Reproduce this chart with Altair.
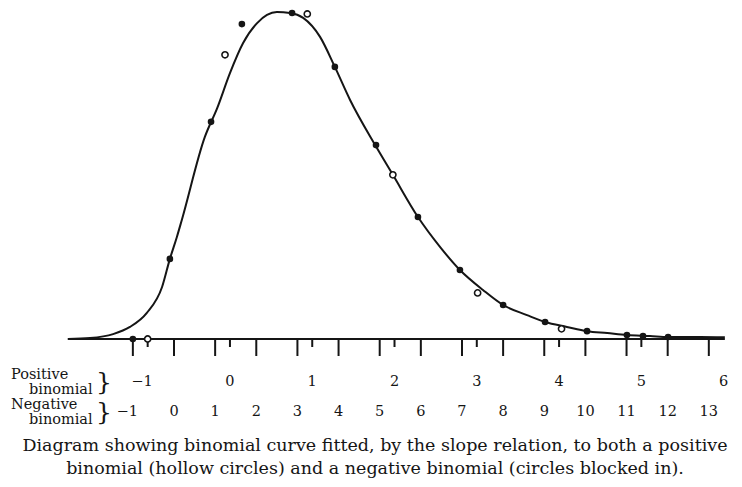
import altair as alt
import pandas as pd

# ---- data (x in negative-binomial units, y relative height) ----
curve_x = [-2.58, -2.04, -1.48, -1.07, -0.66, -0.29, -0.10, 0.07, 0.19, 0.75, 1.05, 1.36,
           1.68, 2.02, 2.26, 2.50, 2.82, 3.14, 3.55, 3.91, 4.28, 4.89, 5.32, 5.93, 6.47,
           6.95, 7.51, 8.00, 8.58, 9.02, 9.55, 10.04, 10.53, 11.01, 11.57, 12.01, 12.79, 13.39]
curve_y = [0.000, 0.003, 0.015, 0.037, 0.080, 0.159, 0.245, 0.312, 0.364, 0.618, 0.706, 0.813,
           0.905, 0.966, 0.991, 1.000, 0.997, 0.982, 0.924, 0.832, 0.731, 0.593, 0.502, 0.373,
           0.281, 0.211, 0.150, 0.104, 0.073, 0.052, 0.037, 0.024, 0.018, 0.012, 0.009, 0.006,
           0.006, 0.005]

# negative binomial (circles blocked in), x in negative-binomial units
neg_x = [-1.00, -0.10, 0.90, 1.65, 2.87, 3.91, 4.91, 5.93, 6.95, 8.00, 9.02, 10.04, 11.01, 11.40, 12.01]
neg_y = [0.000, 0.245, 0.664, 0.963, 0.997, 0.832, 0.593, 0.373, 0.211, 0.104, 0.052, 0.024, 0.012, 0.009, 0.006]

# positive binomial (hollow circles), x in positive-binomial units
pos_x = [-1.00, -0.06, 0.94, 1.98, 3.01, 4.03]
pos_y = [0.000, 0.869, 0.994, 0.502, 0.141, 0.031]

neg_ticks = list(range(-1, 14))
pos_ticks = list(range(-1, 6))
pos_labels = list(range(-1, 7))

# relation between the two scales (positive unit -> negative unit)
POS_SLOPE = 2.0
POS_OFFSET = 1.36

side_labels = ["Positive", "binomial", "Negative", "binomial"]
caption = ["Diagram showing binomial curve fitted, by the slope relation, to both a positive",
           "binomial (hollow circles) and a negative binomial (circles blocked in)."]

FONT = "DejaVu Serif"
INK = "#151515"

xs = alt.Scale(domain=[-4.2295, 13.8065], nice=False, zero=False)
ys = alt.Scale(domain=[-0.4526, 1.0367], nice=False, zero=False)
X = lambda f: alt.X(f, type="quantitative", scale=xs, axis=None)
Y = lambda f: alt.Y(f, type="quantitative", scale=ys, axis=None)

curve_df = pd.DataFrame({"x": curve_x, "y": curve_y})
neg_df = pd.DataFrame({"x": neg_x, "y": neg_y})
pos_df = pd.DataFrame({"p": pos_x, "y": pos_y})
nt_df = pd.DataFrame({"x": neg_ticks})
pt_df = pd.DataFrame({"p": pos_ticks})
pl_df = pd.DataFrame({"p": pos_labels})
nl_df = pd.DataFrame({"x": neg_ticks})
pos_calc = f"{POS_SLOPE}*datum.p + {POS_OFFSET}"

baseline = alt.Chart(pd.DataFrame({"x": [curve_x[0]], "x2": [curve_x[-1]], "y": [0]})).mark_rule(
    color=INK, strokeWidth=2).encode(x=X("x"), x2="x2", y=Y("y"))

curve = alt.Chart(curve_df).mark_line(color=INK, strokeWidth=2, interpolate="monotone").encode(
    x=X("x"), y=Y("y"), order="x:Q")

long_ticks = alt.Chart(nt_df).mark_rule(color=INK, strokeWidth=2).encode(
    x=X("x"), y=alt.value(339), y2=alt.value(356))

short_ticks = alt.Chart(pt_df).transform_calculate(x=pos_calc).mark_rule(
    color=INK, strokeWidth=2).encode(x=X("x"), y=alt.value(339), y2=alt.value(347))

filled = alt.Chart(neg_df).mark_circle(color=INK, opacity=1, size=44).encode(x=X("x"), y=Y("y"))

hollow = alt.Chart(pos_df).transform_calculate(x=pos_calc).mark_point(
    shape="circle", filled=True, fill="white", stroke=INK, strokeWidth=1.6, size=38, opacity=1
).encode(x=X("x"), y=Y("y"))

tstyle = dict(font=FONT, fontSize=14.5, color=INK, baseline="middle")

pos_lab_c = alt.Chart(pl_df).transform_calculate(x=pos_calc, t="''+datum.p").transform_filter(
    "datum.p >= 0").mark_text(align="center", **tstyle).encode(x=X("x"), y=alt.value(382), text="t:N")
pos_lab_n = alt.Chart(pl_df).transform_calculate(x=pos_calc, t="'\u2212'+abs(datum.p)").transform_filter(
    "datum.p < 0").mark_text(align="right", dx=5, **tstyle).encode(x=X("x"), y=alt.value(382), text="t:N")
neg_lab_c = alt.Chart(nl_df).transform_calculate(t="''+datum.x").transform_filter(
    "datum.x >= 0").mark_text(align="center", **tstyle).encode(x=X("x"), y=alt.value(412), text="t:N")
neg_lab_n = alt.Chart(nl_df).transform_calculate(t="'\u2212'+abs(datum.x)").transform_filter(
    "datum.x < 0").mark_text(align="right", dx=5, **tstyle).encode(x=X("x"), y=alt.value(412), text="t:N")

side = alt.Chart(pd.DataFrame({"t": side_labels, "row": [0, 1, 2, 3]})).transform_calculate(
    xp="datum.row % 2 == 0 ? 11 : 29", yp="375 + datum.row*15"
).mark_text(align="left", font=FONT, fontSize=14.5, color=INK, baseline="middle").encode(
    x=alt.X("xp:Q", scale=None, axis=None), y=alt.Y("yp:Q", scale=None, axis=None), text="t:N")

braces = alt.Chart(pd.DataFrame({"t": ["}", "}"], "yp": [382, 412]})).mark_text(
    align="center", font=FONT, fontSize=25, color=INK, baseline="middle"
).encode(x=alt.value(104), y=alt.Y("yp:Q", scale=None, axis=None), text="t:N")

cap = alt.Chart(pd.DataFrame({"t": caption, "yp": [446, 469]})).mark_text(
    align="center", font=FONT, fontSize=17.5, color=INK, baseline="middle"
).encode(x=alt.value(375), y=alt.Y("yp:Q", scale=None, axis=None), text="t:N")

chart = alt.layer(baseline, curve, long_ticks, short_ticks, filled, hollow,
                  pos_lab_c, pos_lab_n, neg_lab_c, neg_lab_n, side, braces, cap).properties(
    width=742, height=487, padding=0, autosize=alt.AutoSizeParams(type="none"),
    background="white"
).configure_view(stroke=None)

chart.save("out.html", embed_options={"renderer": "svg", "actions": False})
